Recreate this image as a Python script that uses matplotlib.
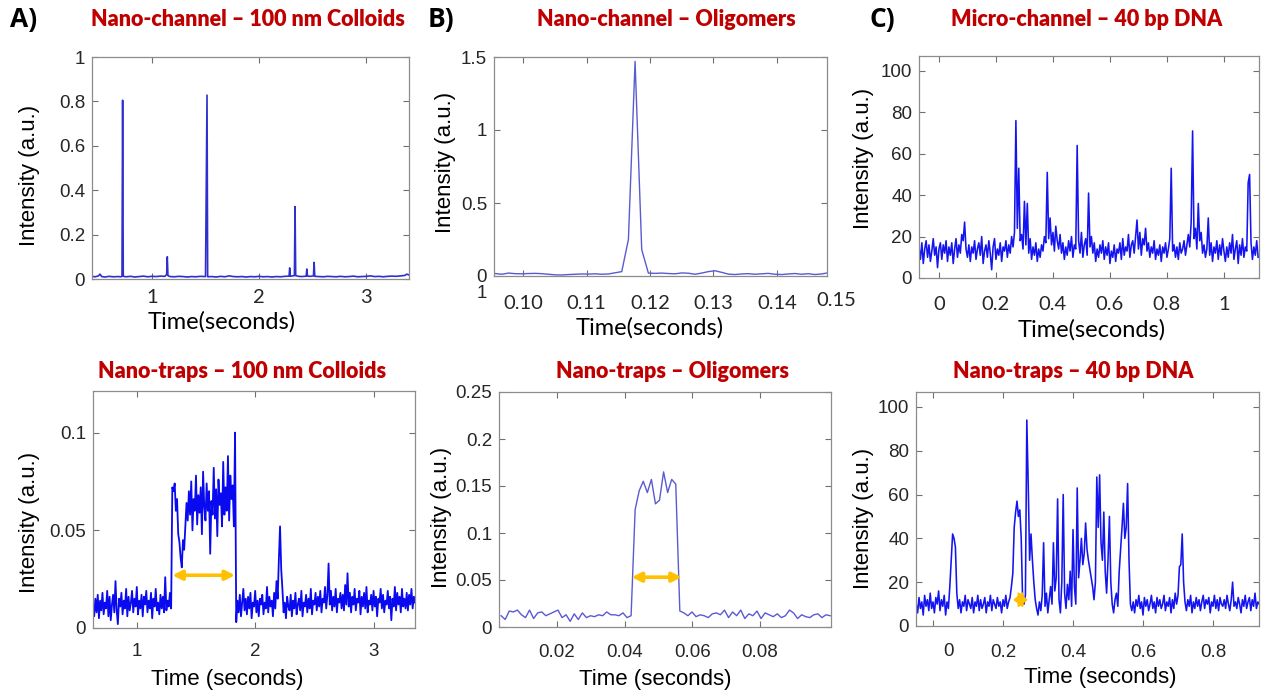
import numpy as np
import matplotlib
matplotlib.use("Agg")
import matplotlib.pyplot as plt

W, H = 1264, 694

# ---------------- data ----------------
# A) top: nano-channel, 100 nm colloids (time s, intensity a.u.)
a_top_t = [0.44, 0.47, 0.50, 0.515, 0.53, 0.56, 0.60, 0.64, 0.68, 0.71, 0.72, 0.726, 0.732, 0.76, 0.80,
           0.84, 0.88, 0.92, 0.96, 1.00, 1.04, 1.08, 1.12, 1.137, 1.143, 1.149, 1.17, 1.21, 1.25, 1.29,
           1.33, 1.37, 1.41, 1.45, 1.50, 1.514, 1.52, 1.56, 1.60, 1.64, 1.68, 1.72, 1.76, 1.80, 1.84,
           1.88, 1.92, 1.96, 2.00, 2.04, 2.08, 2.12, 2.16, 2.20, 2.24, 2.28, 2.286, 2.292, 2.31, 2.33,
           2.336, 2.342, 2.37, 2.40, 2.44, 2.446, 2.452, 2.48, 2.508, 2.514, 2.52, 2.56, 2.60, 2.64, 2.68,
           2.72, 2.76, 2.80, 2.84, 2.88, 2.92, 2.96, 3.00, 3.04, 3.08, 3.12, 3.16, 3.20, 3.24, 3.28,
           3.32, 3.36, 3.38, 3.40]
a_top_y = [0.012, 0.010, 0.014, 0.022, 0.011, 0.009, 0.012, 0.010, 0.011, 0.010, 0.012, 0.805, 0.012, 0.010, 0.012,
           0.009, 0.011, 0.013, 0.010, 0.012, 0.011, 0.013, 0.012, 0.020, 0.100, 0.015, 0.011, 0.010, 0.012, 0.011,
           0.009, 0.011, 0.010, 0.012, 0.011, 0.828, 0.010, 0.011, 0.009, 0.012, 0.010, 0.014, 0.011, 0.010, 0.011,
           0.009, 0.011, 0.010, 0.012, 0.010, 0.011, 0.009, 0.011, 0.010, 0.012, 0.013, 0.050, 0.012, 0.014, 0.015,
           0.326, 0.015, 0.012, 0.011, 0.013, 0.045, 0.013, 0.012, 0.014, 0.075, 0.012, 0.011, 0.010, 0.012, 0.011,
           0.010, 0.012, 0.010, 0.011, 0.013, 0.010, 0.011, 0.012, 0.014, 0.011, 0.012, 0.010, 0.012, 0.013, 0.012,
           0.014, 0.016, 0.022, 0.018]

# A) bottom: nano-traps, 100 nm colloids, sampled every 0.01 s from 0.63 s
a_bot_t0, a_bot_dt = 0.63, 0.01
a_bot_y = [
    .012, .006, .015, .008, .017, .005, .014, .009, .018, .007,
    .013, .010, .019, .006, .016, .004, .012, .017, .008, .024,
    .009, .002, .015, .011, .018, .007, .014, .010, .020, .006,
    .016, .009, .013, .019, .008, .015, .011, .021, .007, .014,
    .010, .017, .006, .016, .012, .019, .008, .014, .010, .018,
    .005, .015, .011, .020, .009, .013, .007, .017, .010, .016,
    .008, .026, .009, .014, .011, .018, .010,
    .072, .070, .074, .060, .066, .048, .044, .036, .031, .045, .040,
    .052, .064, .055, .070, .058, .075, .050, .066, .060, .078,
    .053, .068, .059, .072, .048, .080, .062, .055, .074, .060,
    .070, .038, .065, .058, .082, .056, .071, .047, .076, .063,
    .069, .052, .085, .058, .072, .060, .088, .055, .078, .066,
    .073, .052, .100,
    .003, .014, .008, .017, .006, .013, .020, .009, .015, .007,
    .016, .010, .018, .005, .013, .011, .019, .008, .014, .006,
    .015, .012, .017, .007, .013, .010, .021, .008, .016, .011,
    .014, .006, .018, .010, .024, .015, .035,
    .052, .030, .020,
    .008, .013, .005, .016, .011, .009, .017, .006, .014, .010,
    .018, .007, .012, .015, .009, .019, .006, .013, .011, .017,
    .008, .015, .010, .020, .007, .014, .012, .018, .009, .016,
    .011, .019, .008, .015, .013, .021, .010, .017,
    .033,
    .012, .019, .009, .016, .011, .020, .008, .015, .013, .018, .010,
    .017, .009, .022, .012,
    .028,
    .011, .018, .008, .016, .012, .020, .009, .015, .013, .019,
    .007, .016, .011, .018, .010, .021, .008, .014, .012, .017,
    .009, .019, .011, .016, .006, .015, .013, .020, .010, .017,
    .008, .014, .012, .019, .010, .016, .004, .015, .011, .021,
    .009, .018, .012, .016, .008, .020, .011, .015, .010, .018,
    .009, .017, .012, .020, .010, .016, .013]
a_bot_arrow = (1.30, 1.83, 0.027)

# B) top: nano-channel, oligomers
b_top_t0, b_top_dt = 0.09454, 0.00105
b_top_y = [0.018, 0.017, 0.012, 0.020, 0.016, 0.015, 0.017, 0.018, 0.016, 0.012,
           0.008, 0.007, 0.010, 0.012, 0.014, 0.013, 0.015, 0.012, 0.014, 0.022,
           0.030, 0.250, 1.470, 0.180, 0.020,
           0.018, 0.020, 0.017, 0.015, 0.021, 0.019, 0.012, 0.020, 0.030, 0.036,
           0.025, 0.013, 0.010, 0.014, 0.016, 0.012, 0.015, 0.018, 0.012, 0.010,
           0.014, 0.017, 0.012, 0.016, 0.010, 0.014, 0.022]

# B) bottom: nano-traps, oligomers
b_bot_t0, b_bot_dt = 0.00353, 0.0012
b_bot_y = [.012, .008, .017, .016, .018, .013, .010, .018, .009, .015,
           .016, .012, .014, .016, .018, .010, .013, .006, .014, .008,
           .015, .010, .012, .011, .013, .012, .016, .013, .013, .012,
           .015, .010, .012,
           .125, .145, .155, .143, .157, .131, .135, .165, .143, .157, .152,
           .017,
           .015, .012, .016, .011, .013, .012, .010, .014, .015, .013,
           .018, .010, .016, .012, .018, .009, .014, .012, .017, .009,
           .015, .013, .011, .014, .010, .012, .018, .015, .009, .013,
           .011, .010, .013, .014, .010, .013, .012]
b_bot_arrow = (0.0421, 0.0569, 0.053)

# C) top: micro-channel, 40 bp DNA
c_top_t0, c_top_dt = -0.07, 0.005
c_top_y = [15, 9, 17, 7, 14, 18, 10, 16, 8, 13,
           19, 11, 15, 5, 14, 17, 9, 16, 12, 18,
           8, 15, 11, 17, 7, 14, 19, 10, 16, 12,
           21, 18, 27, 14, 10, 16, 8, 15, 12, 18,
           9, 14, 17, 11, 20, 7, 13, 16, 10, 18,
           12, 4, 15, 19, 9, 14, 11, 17, 8, 15,
           13, 18, 10, 16, 12, 20, 15, 22, 76, 24,
           53, 18, 21, 14, 37, 16, 36, 12, 19, 9,
           15, 11, 17, 8, 14, 10, 16, 13, 20, 17,
           51, 19, 29, 16, 22, 13, 25, 18, 14, 21,
           12, 17, 9, 15, 11, 18, 13, 20, 10, 16,
           14, 64, 18, 12, 22, 10, 16, 19, 11, 41,
           15, 20, 12, 17, 8, 14, 10, 16, 12, 18,
           9, 15, 11, 17, 7, 13, 10, 16, 8, 14,
           12, 17, 9, 19, 11, 15, 13, 21, 10, 16,
           18, 12, 20, 28, 14, 22, 11, 19, 16, 24,
           13, 17, 10, 15, 12, 18, 9, 14, 11, 16,
           8, 15, 12, 17, 10, 14, 19, 53, 13, 16,
           10, 15, 9, 17, 12, 14, 18, 11, 16, 21,
           15, 27, 71, 19, 24, 14, 36, 18, 22, 12,
           16, 10, 14, 29, 11, 17, 8, 15, 12, 18,
           9, 16, 11, 19, 13, 8, 15, 10, 17, 12,
           21, 9, 14, 18, 7, 16, 11, 19, 10, 15,
           13, 46, 50, 17, 9, 15, 11, 18, 10]

# C) bottom: nano-traps, 40 bp DNA
c_bot_t0, c_bot_dt = -0.048, 0.004
c_bot_y = [10, 6, 13, 8, 11, 5, 14, 9, 12, 7,
           15, 8, 11, 6, 13, 10, 16, 7, 12, 9,
           14, 5, 11, 8, 18, 30, 42, 40, 36, 15,
           8, 12, 6, 11, 9, 14, 7, 12, 10, 8,
           13, 6, 11, 9, 14, 7, 12, 8, 10, 13,
           6, 11, 9, 14, 7, 12, 10, 8, 13, 9,
           11, 6, 12, 9, 14, 8, 11, 13, 18, 24,
           45, 52, 57, 50, 53, 40, 12, 10, 14, 94,
           65, 30, 42, 30, 20, 12, 8, 5, 11, 7,
           14, 38, 9, 15, 6, 12, 18, 10, 38, 16,
           22, 58, 12, 6, 20, 60, 15, 8, 19, 12,
           25, 9, 44, 18, 10, 63, 22, 30, 40, 28,
           33, 47, 35, 30, 26, 22, 18, 12, 20, 68,
           45, 69, 38, 30, 52, 25, 15, 30, 50, 20,
           10, 6, 12, 15, 9, 25, 35, 45, 56, 40,
           45, 65, 30, 10, 7, 11, 6, 12, 9, 14,
           8, 11, 5, 13, 9, 12, 7, 10, 14, 8,
           11, 6, 13, 9, 12, 8, 10, 14, 7, 11,
           9, 13, 6, 12, 8, 15, 10, 14, 27, 28,
           42, 20, 11, 7, 12, 9, 14, 6, 11, 8,
           13, 9, 12, 7, 11, 14, 8, 12, 10, 13,
           6, 11, 9, 14, 8, 12, 7, 13, 10, 9,
           12, 8, 14, 10, 7, 12, 20, 9, 11, 8,
           13, 10, 6, 12, 9, 14, 8, 11, 13, 7,
           12, 9, 15, 8, 11, 10]
c_bot_arrow = (0.229, 0.271, 12)

titles = ["Nano-channel \u2013 100 nm Colloids", "Nano-channel \u2013 Oligomers", "Micro-channel \u2013 40 bp DNA",
          "Nano-traps \u2013 100 nm Colloids", "Nano-traps \u2013 Oligomers", "Nano-traps \u2013 40 bp DNA"]
panel_letters = ["A)", "B)", "C)"]

# ---------------- drawing ----------------
fig = plt.figure(figsize=(W / 100, H / 100), dpi=100)
fig.patch.set_facecolor("white")

TITLE_RED = "#C00000"
SPINE = "#8c8c8c"
TXT = "#262626"
ARIAL = "Liberation Sans"
CALI = "Lato"


def fx(px):
    return px / W


def fy(py):
    return 1 - py / H


def make_ax(l, r, t, b):
    ax = fig.add_axes([fx(l), fy(b), (r - l) / W, (b - t) / H])
    for s in ax.spines.values():
        s.set_color(SPINE)
        s.set_linewidth(0.9)
    ax.tick_params(direction="in", length=4, width=0.8, color="#707070",
                   top=True, right=True, labelsize=13.5, labelcolor=TXT)
    return ax


def style_labels(ax, xfam, xpad, ypad=5):
    ax.tick_params(axis="x", pad=xpad)
    ax.tick_params(axis="y", pad=ypad)
    for lab in ax.get_xticklabels():
        lab.set_fontfamily(xfam)
        lab.set_fontsize(14.5 if xfam == CALI else 13.5)
    for lab in ax.get_yticklabels():
        lab.set_fontfamily(ARIAL)


def arrow(ax, x1, x2, y, style="<|-|>", ms=14, lw=2.6):
    ax.annotate("", xy=(x2, y), xytext=(x1, y),
                arrowprops=dict(arrowstyle=style, color="#FFC000", lw=lw,
                                mutation_scale=ms, shrinkA=0, shrinkB=0))


# A top
ax = make_ax(92, 409, 57, 279)
ax.plot(a_top_t, a_top_y, color="#2f2fcf", lw=1.2)
ax.set_xlim(0.44, 3.40)
ax.set_ylim(0, 1)
ax.set_xticks([1, 2, 3])
ax.set_xticklabels(["1", "2", "3"])
ax.set_yticks([0, 0.2, 0.4, 0.6, 0.8, 1])
ax.set_yticklabels(["0", "0.2", "0.4", "0.6", "0.8", "1"])
style_labels(ax, CALI, 7)

# A bottom
ax = make_ax(93, 415, 391, 628)
t = a_bot_t0 + a_bot_dt * np.arange(len(a_bot_y))
ax.plot(t, a_bot_y, color="#0a0af0", lw=1.3)
ax.set_xlim(0.63, 3.35)
ax.set_ylim(0, 0.1213)
ax.set_xticks([1, 2, 3])
ax.set_xticklabels(["1", "2", "3"])
ax.set_yticks([0, 0.05, 0.1])
ax.set_yticklabels(["0", "0.05", "0.1"])
arrow(ax, *a_bot_arrow)
style_labels(ax, ARIAL, 11)

# B top
ax = make_ax(494, 827, 57, 276)
t = b_top_t0 + b_top_dt * np.arange(len(b_top_y))
ax.plot(t, b_top_y, color="#5a5ad2", lw=1.0)
ax.set_xlim(0.0954, 0.1479)
ax.set_ylim(0, 1.5)
ax.set_xticks([0.10, 0.11, 0.12, 0.13, 0.14])
ax.set_xticklabels(["0.10", "0.11", "0.12", "0.13", "0.14"])
ax.set_yticks([0, 0.5, 1, 1.5])
ax.set_yticklabels(["0", "0.5", "1", "1.5"])
style_labels(ax, CALI, 14)
fig.text(fx(836), fy(300), "0.15", ha="center", va="center", fontsize=14.5, family=CALI, color=TXT)
fig.text(fx(482), fy(294), "1", ha="center", va="center", fontsize=13.5, family=ARIAL, color=TXT)

# B bottom
ax = make_ax(499, 831, 392, 627)
t = b_bot_t0 + b_bot_dt * np.arange(len(b_bot_y))
ax.plot(t, b_bot_y, color="#5a5ad2", lw=1.0)
ax.set_xlim(0.0029, 0.101)
ax.set_ylim(0, 0.25)
ax.set_xticks([0.02, 0.04, 0.06, 0.08])
ax.set_xticklabels(["0.02", "0.04", "0.06", "0.08"])
ax.set_yticks([0, 0.05, 0.1, 0.15, 0.2, 0.25])
ax.set_yticklabels(["0", "0.05", "0.1", "0.15", "0.2", "0.25"])
arrow(ax, *b_bot_arrow)
style_labels(ax, ARIAL, 12)

# C top
ax = make_ax(919, 1259, 56, 278)
t = c_top_t0 + c_top_dt * np.arange(len(c_top_y))
ax.plot(t, c_top_y, color="#1414f0", lw=1.15)
ax.set_xlim(-0.07, 1.123)
ax.set_ylim(0, 107.2)
ax.set_xticks([0, 0.2, 0.4, 0.6, 0.8, 1])
ax.set_xticklabels(["0", "0.2", "0.4", "0.6", "0.8", "1"])
ax.set_yticks([0, 20, 40, 60, 80, 100])
style_labels(ax, CALI, 13)

# C bottom
ax = make_ax(916, 1259, 392, 626)
t = c_bot_t0 + c_bot_dt * np.arange(len(c_bot_y))
ax.plot(t, c_bot_y, color="#1414f0", lw=1.15)
ax.set_xlim(-0.0486, 0.9314)
ax.set_ylim(0, 106.8)
ax.set_xticks([0, 0.2, 0.4, 0.6, 0.8])
ax.set_xticklabels(["", "0.2", "0.4", "0.6", "0.8"])
ax.set_yticks([0, 20, 40, 60, 80, 100])
arrow(ax, *c_bot_arrow, style="<|-|>,head_length=0.55,head_width=0.45", ms=10, lw=1.5)
style_labels(ax, ARIAL, 13)
fig.text(fx(948), fy(652), "0", ha="center", va="center", fontsize=13.5, family=ARIAL, color=TXT)

# titles and panel letters
title_pos = [(248, 20), (666, 20), (1087, 20), (242, 372), (673, 372), (1073, 372)]
for (px, py), s in zip(title_pos, titles):
    fig.text(fx(px), fy(py), s, ha="center", va="center", fontsize=15.5, fontweight="heavy",
             family=CALI, color=TITLE_RED)
for (px, py), s in zip([(24, 20), (441, 20), (882, 20)], panel_letters):
    fig.text(fx(px), fy(py), s, ha="center", va="center", fontsize=19, fontweight="bold",
             family="Open Sans", color="black")

# axis labels
ylab_pos = [(30, 175), (445, 162), (863, 158), (29, 522), (441, 517), (863, 518)]
for px, py in ylab_pos:
    fig.text(fx(px), fy(py), "Intensity (a.u.)", ha="center", va="center", rotation=90,
             fontsize=16, family=ARIAL, color="black")
for px, py in [(222, 322), (650, 328), (1092, 330)]:
    fig.text(fx(px), fy(py), "Time(seconds)", ha="center", va="center", fontsize=17,
             family=CALI, color="black")
for px, py in [(227, 680), (655, 680), (1100, 677)]:
    fig.text(fx(px), fy(py), "Time (seconds)", ha="center", va="center", fontsize=16,
             family=ARIAL, color="black")

fig.savefig("out.png", dpi=100, facecolor="white")
